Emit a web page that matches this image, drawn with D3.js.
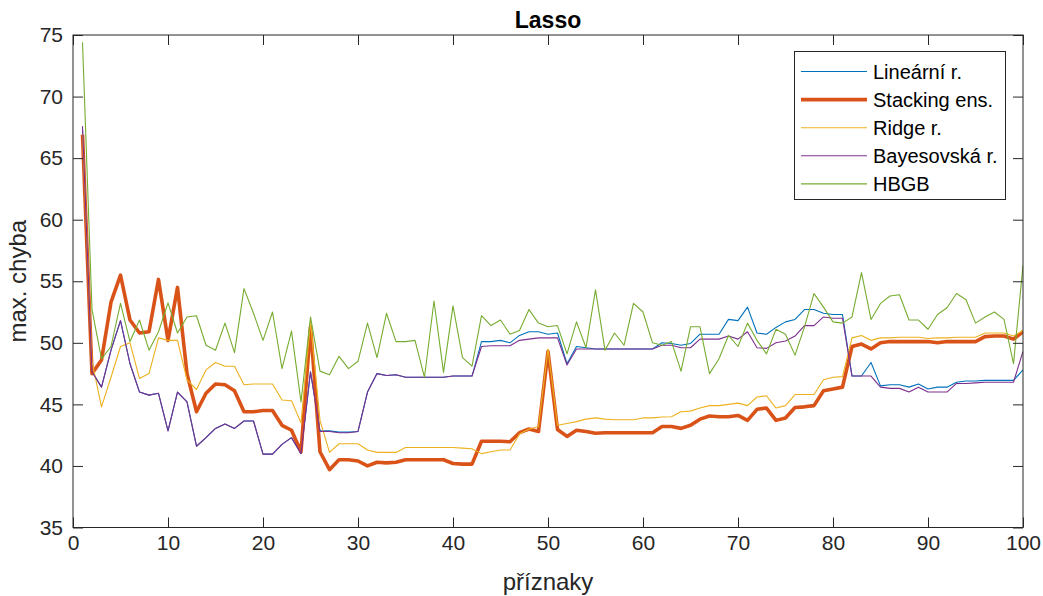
<!DOCTYPE html>
<html>
<head>
<meta charset="utf-8">
<script src="https://cdn.jsdelivr.net/npm/d3@7"></script>
<style>
  body { margin: 0; background: #fff; }
  svg { display: block; font-family: "Liberation Sans", Arial, Helvetica, sans-serif; }
</style>
</head>
<body>
<div id="chart"></div>
<script>
// ---- data ----
var features = d3.range(1, 101);

var seriesNames = ["Lineární r.", "Stacking ens.", "Ridge r.", "Bayesovská r.", "HBGB"];

var linearVals = [
  67.3, 47.65, 46.4, 49.4, 51.8, 48.3, 46.0, 45.75, 45.9, 42.85,
  46.0, 45.2, 41.6, 42.3, 43.05, 43.4, 43.05, 43.65, 43.65, 40.96,
  40.96, 41.75, 42.3, 41.0, 47.65, 42.85, 42.85, 42.75, 42.75, 42.8,
  46.0, 47.5, 47.35, 47.4, 47.2, 47.2, 47.2, 47.2, 47.2, 47.3,
  47.3, 47.3, 50.1, 50.1, 50.2, 50.0, 50.6, 50.9, 50.9, 50.7,
  50.8, 48.3, 49.7, 49.6, 49.5, 49.5, 49.5, 49.5, 49.5, 49.5,
  49.5, 50.0, 49.95, 49.8, 49.95, 50.7, 50.7, 50.7, 51.9, 51.8,
  52.9, 50.8, 50.7, 51.25, 51.7, 51.9, 52.7, 52.7, 52.4, 52.3,
  52.3, 47.3, 47.3, 48.4, 46.5, 46.6, 46.6, 46.4, 46.65, 46.25,
  46.4, 46.4, 46.8, 46.9, 46.9, 46.95, 46.95, 46.95, 46.95, 47.8
];

var stackingVals = [
  66.9, 47.5, 48.6, 53.3, 55.5, 51.85, 50.8, 50.9, 55.15, 50.2,
  54.5, 47.5, 44.4, 45.9, 46.65, 46.6, 46.1, 44.4, 44.4, 44.5,
  44.5, 43.3, 42.9, 41.15, 51.3, 41.15, 39.7, 40.5, 40.5, 40.4,
  40.0, 40.3, 40.25, 40.3, 40.5, 40.5, 40.5, 40.5, 40.5, 40.2,
  40.15, 40.15, 42.0, 42.0, 42.0, 41.96, 42.7, 43.0, 42.8, 49.3,
  42.96, 42.4, 42.9, 42.8, 42.65, 42.7, 42.7, 42.7, 42.7, 42.7,
  42.7, 43.2, 43.2, 43.05, 43.3, 43.8, 44.05, 44.0, 44.0, 44.1,
  43.7, 44.6, 44.7, 43.7, 43.9, 44.75, 44.8, 44.9, 46.1, 46.25,
  46.4, 49.7, 49.9, 49.5, 50.0, 50.1, 50.1, 50.1, 50.1, 50.1,
  50.0, 50.1, 50.1, 50.1, 50.1, 50.5, 50.55, 50.55, 50.3, 50.9
];

var ridgeVals = [
  67.0, 48.5, 44.8, 47.2, 49.7, 50.0, 47.1, 47.5, 50.4, 50.2,
  50.2, 47.0, 46.2, 47.8, 48.4, 48.1, 48.1, 46.6, 46.65, 46.65,
  46.65, 45.35, 45.3, 43.5, 51.7, 43.7, 41.1, 41.8, 41.8, 41.8,
  41.3, 41.1, 41.1, 41.1, 41.5, 41.5, 41.5, 41.5, 41.5, 41.5,
  41.45, 41.4, 41.0, 41.15, 41.3, 41.3, 42.6, 43.0, 43.2, 49.5,
  43.3, 43.45, 43.6, 43.8, 43.9, 43.8, 43.75, 43.75, 43.75, 43.9,
  43.9, 43.97, 44.0, 44.4, 44.45, 44.7, 44.9, 44.9, 45.0, 45.1,
  44.9, 45.6, 45.7, 44.7, 44.9, 45.8, 45.8, 45.8, 47.0, 47.2,
  47.25, 50.4, 50.6, 50.2, 50.4, 50.4, 50.45, 50.45, 50.45, 50.35,
  50.4, 50.4, 50.45, 50.45, 50.45, 50.8, 50.8, 50.8, 50.55, 51.0
];

var bayesVals = [
  67.6, 47.65, 46.4, 49.4, 51.8, 48.3, 46.0, 45.75, 45.9, 42.85,
  46.0, 45.2, 41.6, 42.3, 43.05, 43.4, 43.05, 43.65, 43.65, 40.96,
  40.96, 41.75, 42.3, 41.0, 47.65, 42.8, 42.8, 42.7, 42.7, 42.8,
  46.0, 47.5, 47.35, 47.4, 47.2, 47.2, 47.2, 47.2, 47.2, 47.3,
  47.3, 47.3, 49.7, 49.76, 49.76, 49.76, 50.2, 50.3, 50.4, 50.4,
  50.4, 48.2, 49.5, 49.5, 49.5, 49.5, 49.5, 49.5, 49.5, 49.5,
  49.5, 49.8, 49.8, 49.6, 49.6, 50.3, 50.3, 50.3, 50.55, 50.3,
  50.9, 49.6, 49.55, 50.0, 50.15, 50.55, 51.4, 51.4, 52.1, 52.0,
  52.0, 47.3, 47.3, 47.3, 46.4, 46.3, 46.3, 46.0, 46.4, 46.0,
  46.0, 46.0, 46.7, 46.7, 46.75, 46.8, 46.8, 46.8, 46.8, 49.3
];

var hbgbVals = [
  74.4, 52.7, 48.7, 49.7, 53.2, 50.1, 51.85, 49.4, 50.9, 53.25,
  50.8, 52.1, 52.2, 49.8, 49.4, 51.6, 49.2, 54.4, 52.4, 50.2,
  52.5, 47.9, 50.95, 45.2, 52.1, 47.7, 47.4, 48.9, 47.9, 48.5,
  51.6, 48.8, 52.4, 50.1, 50.1, 50.2, 47.2, 53.4, 47.6, 53.0,
  48.8, 48.1, 52.2, 51.4, 51.85, 50.7, 51.0, 52.7, 51.6, 51.3,
  51.4, 49.1, 51.7, 49.6, 54.3, 49.4, 50.8, 49.8, 53.2, 52.5,
  50.0, 49.8, 50.1, 47.7, 51.3, 51.3, 47.5, 48.7, 50.6, 49.7,
  51.6, 50.2, 49.1, 51.1, 50.7, 49.0, 51.3, 54.0, 52.9, 51.7,
  51.6, 52.1, 55.7, 51.9, 53.2, 53.8, 53.9, 51.85, 51.85, 51.1,
  52.3, 52.85, 54.0, 53.5, 51.6, 52.1, 52.5, 51.9, 48.3, 56.3
];

var xTicks = d3.range(0, 101, 10);
var yTicks = d3.range(35, 76, 5);

// ---- layout ----
var width = 1043,
    height = 596;

var margin = { left: 73, right: 20, top: 35, bottom: 68.5 };

var x = d3.scaleLinear().domain([0, 100]).range([margin.left, width - margin.right]);
var y = d3.scaleLinear().domain([35, 75]).range([height - margin.bottom, margin.top]);

var series = [
  { name: seriesNames[0], values: linearVals,   color: "#0072BD", w: 1.1 },
  { name: seriesNames[1], values: stackingVals, color: "#D95319", w: 3.6 },
  { name: seriesNames[2], values: ridgeVals,    color: "#EDB120", w: 1.1 },
  { name: seriesNames[3], values: bayesVals,    color: "#7E2F8E", w: 1.1 },
  { name: seriesNames[4], values: hbgbVals,     color: "#77AC30", w: 1.1 }
];

var axisColor = "#262626";

var svg = d3.select("#chart")
  .append("svg")
    .attr("width", width)
    .attr("height", height);

svg.append("rect")
    .attr("width", width)
    .attr("height", height)
    .attr("fill", "white");

svg.append("defs").append("clipPath")
    .attr("id", "plotclip")
  .append("rect")
    .attr("x", x(0))
    .attr("y", y(75))
    .attr("width", x(100) - x(0))
    .attr("height", y(35) - y(75));

// ---- lines ----
var line = d3.line()
    .x(function(d, i) { return x(features[i]); })
    .y(function(d) { return y(d); });

var lines = svg.append("g").attr("clip-path", "url(#plotclip)");

series.forEach(function(s) {
  lines.append("path")
      .datum(s.values)
      .attr("fill", "none")
      .attr("stroke", s.color)
      .attr("stroke-width", s.w)
      .attr("stroke-linejoin", "round")
      .attr("d", line);
});

// ---- axes (MATLAB style: box, inward ticks on all four sides) ----
function styleAxis(g) {
  g.select(".domain").remove();
  g.selectAll(".tick line").attr("stroke", axisColor).attr("stroke-width", 1);
  g.selectAll(".tick text")
      .attr("fill", axisColor)
      .style("font-size", "21px");
}

svg.append("g")
    .attr("transform", "translate(0," + y(35) + ")")
    .call(d3.axisBottom(x).tickValues(xTicks).tickSize(-10).tickPadding(8))
    .call(styleAxis);

svg.append("g")
    .attr("transform", "translate(0," + y(75) + ")")
    .call(d3.axisTop(x).tickValues(xTicks).tickSize(-10).tickFormat(""))
    .call(styleAxis);

svg.append("g")
    .attr("transform", "translate(" + x(0) + ",0)")
    .call(d3.axisLeft(y).tickValues(yTicks).tickSize(-10).tickPadding(10))
    .call(styleAxis);

svg.append("g")
    .attr("transform", "translate(" + x(100) + ",0)")
    .call(d3.axisRight(y).tickValues(yTicks).tickSize(-10).tickFormat(""))
    .call(styleAxis);

svg.append("rect")
    .attr("x", x(0))
    .attr("y", y(75))
    .attr("width", x(100) - x(0))
    .attr("height", y(35) - y(75))
    .attr("fill", "none")
    .attr("stroke", axisColor)
    .attr("stroke-width", 1);

// ---- titles ----
svg.append("text")
    .attr("x", (x(0) + x(100)) / 2)
    .attr("y", 28)
    .attr("text-anchor", "middle")
    .attr("font-weight", "bold")
    .attr("fill", "#000")
    .style("font-size", "23px")
    .text("Lasso");

svg.append("text")
    .attr("x", (x(0) + x(100)) / 2)
    .attr("y", 590)
    .attr("text-anchor", "middle")
    .attr("fill", axisColor)
    .style("font-size", "24px")
    .text("příznaky");

svg.append("text")
    .attr("transform", "translate(26," + ((y(35) + y(75)) / 2) + ") rotate(-90)")
    .attr("text-anchor", "middle")
    .attr("fill", axisColor)
    .style("font-size", "24px")
    .text("max. chyba");

// ---- legend ----
var legend = svg.append("g");

legend.append("rect")
    .attr("x", 794.5)
    .attr("y", 51.5)
    .attr("width", 211)
    .attr("height", 148)
    .attr("fill", "white")
    .attr("stroke", axisColor)
    .attr("stroke-width", 1);

var item = legend.selectAll("g.item")
  .data(series)
  .enter().append("g")
    .attr("class", "item")
    .attr("transform", function(d, i) { return "translate(0," + (71.5 + i * 28.1) + ")"; });

item.append("line")
    .attr("x1", 801)
    .attr("x2", 867)
    .attr("stroke", function(d) { return d.color; })
    .attr("stroke-width", function(d) { return d.w; });

item.append("text")
    .attr("x", 873)
    .attr("dy", "0.35em")
    .attr("fill", "#000")
    .style("font-size", "20px")
    .text(function(d) { return d.name; });
</script>
</body>
</html>
